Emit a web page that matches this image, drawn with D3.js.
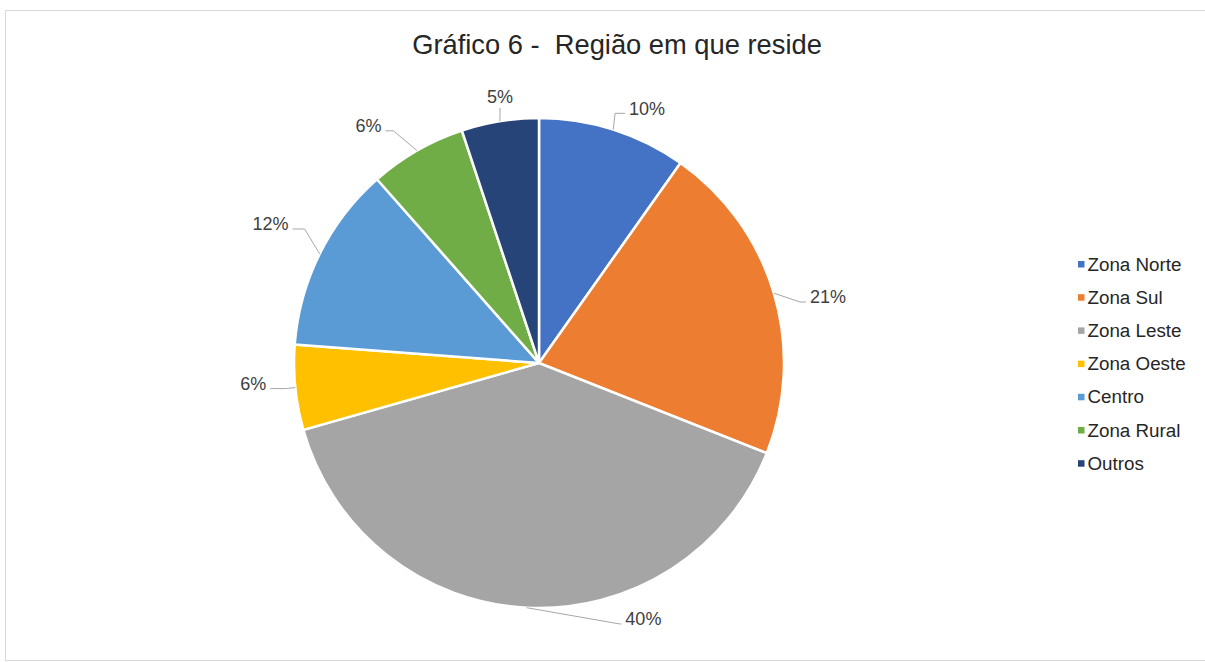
<!DOCTYPE html>
<html><head><meta charset="utf-8">
<script src="https://cdn.jsdelivr.net/npm/d3@7"></script>
<style>body{margin:0;background:#fff;}svg{display:block;font-family:"Liberation Sans",Arial,sans-serif;}</style>
</head><body>
<svg id="c" width="1205" height="662"></svg>
<script>
const categories = ["Zona Norte","Zona Sul","Zona Leste","Zona Oeste","Centro","Zona Rural","Outros"];
const values = [9.8, 21.2, 39.6, 5.6, 12.3, 6.4, 5.1];
const labels = ["10%","21%","40%","6%","12%","6%","5%"];
const colors = ["#4472C4","#ED7D31","#A5A5A5","#FFC000","#5B9BD5","#70AD47","#264478"];
const title = "Gráfico 6 -  Região em que reside";
// label layout (angle offset in degrees, elbow radius, horizontal leader length)
const labelNudgeDeg = [-0.7, 3.4, -20, 0, 3.3, -2.2, 0.5];
const labelRadius = [261, 268, 273, 255, 270, 274, 258];
const leaderLen = [10, 6, 2, 15, 12, 8, 0];

const svg = d3.select("#c");
svg.append("rect").attr("x",5.5).attr("y",10.5).attr("width",1210).attr("height",650)
  .attr("fill","none").attr("stroke","#d9d9d9");

svg.append("text").attr("x",617).attr("y",54).attr("text-anchor","middle")
  .style("white-space","pre").attr("font-size",27.3).attr("fill","#262626").text(title);

const cx = 539, cy = 363, r = 245;
const g = svg.append("g").attr("transform",`translate(${cx},${cy})`);
const data = categories.map((c,i)=>({c, v:values[i], l:labels[i], col:colors[i], n:labelNudgeDeg[i], R:labelRadius[i], h:leaderLen[i]}));
const pie = d3.pie().sort(null).value(d=>d.v);
const arcs = pie(data);
const arc = d3.arc().innerRadius(0).outerRadius(r);
g.selectAll("path.slice").data(arcs).join("path").attr("class","slice").attr("d",arc)
  .attr("fill",d=>d.data.col).attr("stroke","#fff").attr("stroke-width",2.5);

const pt = (a,rad)=>[Math.sin(a)*rad, -Math.cos(a)*rad];
arcs.forEach(d=>{
  const mid = (d.startAngle+d.endAngle)/2;
  const la = mid + d.data.n*Math.PI/180;
  const s = Math.sin(la);
  const p0 = pt(mid, r);
  const p1 = pt(la, d.data.R);
  const side = Math.abs(s) < 0.2 ? 0 : (s>0?1:-1);
  const p2 = [p1[0] + side*d.data.h, p1[1]];
  let tp, anchor;
  if (side===0) { tp = [p1[0], p1[1]-11]; anchor = "middle"; }
  else { tp = [p2[0]+side*4, p2[1]-5]; anchor = side>0?"start":"end"; }
  g.append("path").attr("d",d3.line()([p0,p1,p2])).attr("fill","none")
    .attr("stroke","#a6a6a6").attr("stroke-width",1);
  g.append("text").attr("x",tp[0]).attr("y",tp[1]).attr("dy","0.35em")
    .attr("text-anchor", anchor)
    .attr("font-size",18).attr("fill","#404040").text(d.data.l);
});

const leg = svg.append("g").attr("transform","translate(1078,264)");
const ly = d3.scaleBand().domain(categories).range([0, 33.2*categories.length]);
categories.forEach((c,i)=>{
  const y = ly(c);
  leg.append("rect").attr("x",0).attr("y",y-3).attr("width",6.5).attr("height",6.5).attr("fill",colors[i]);
  leg.append("text").attr("x",9.5).attr("y",y).attr("dy","0.35em").attr("font-size",18.8)
    .attr("fill","#262626").text(c);
});
</script>
</body></html>
